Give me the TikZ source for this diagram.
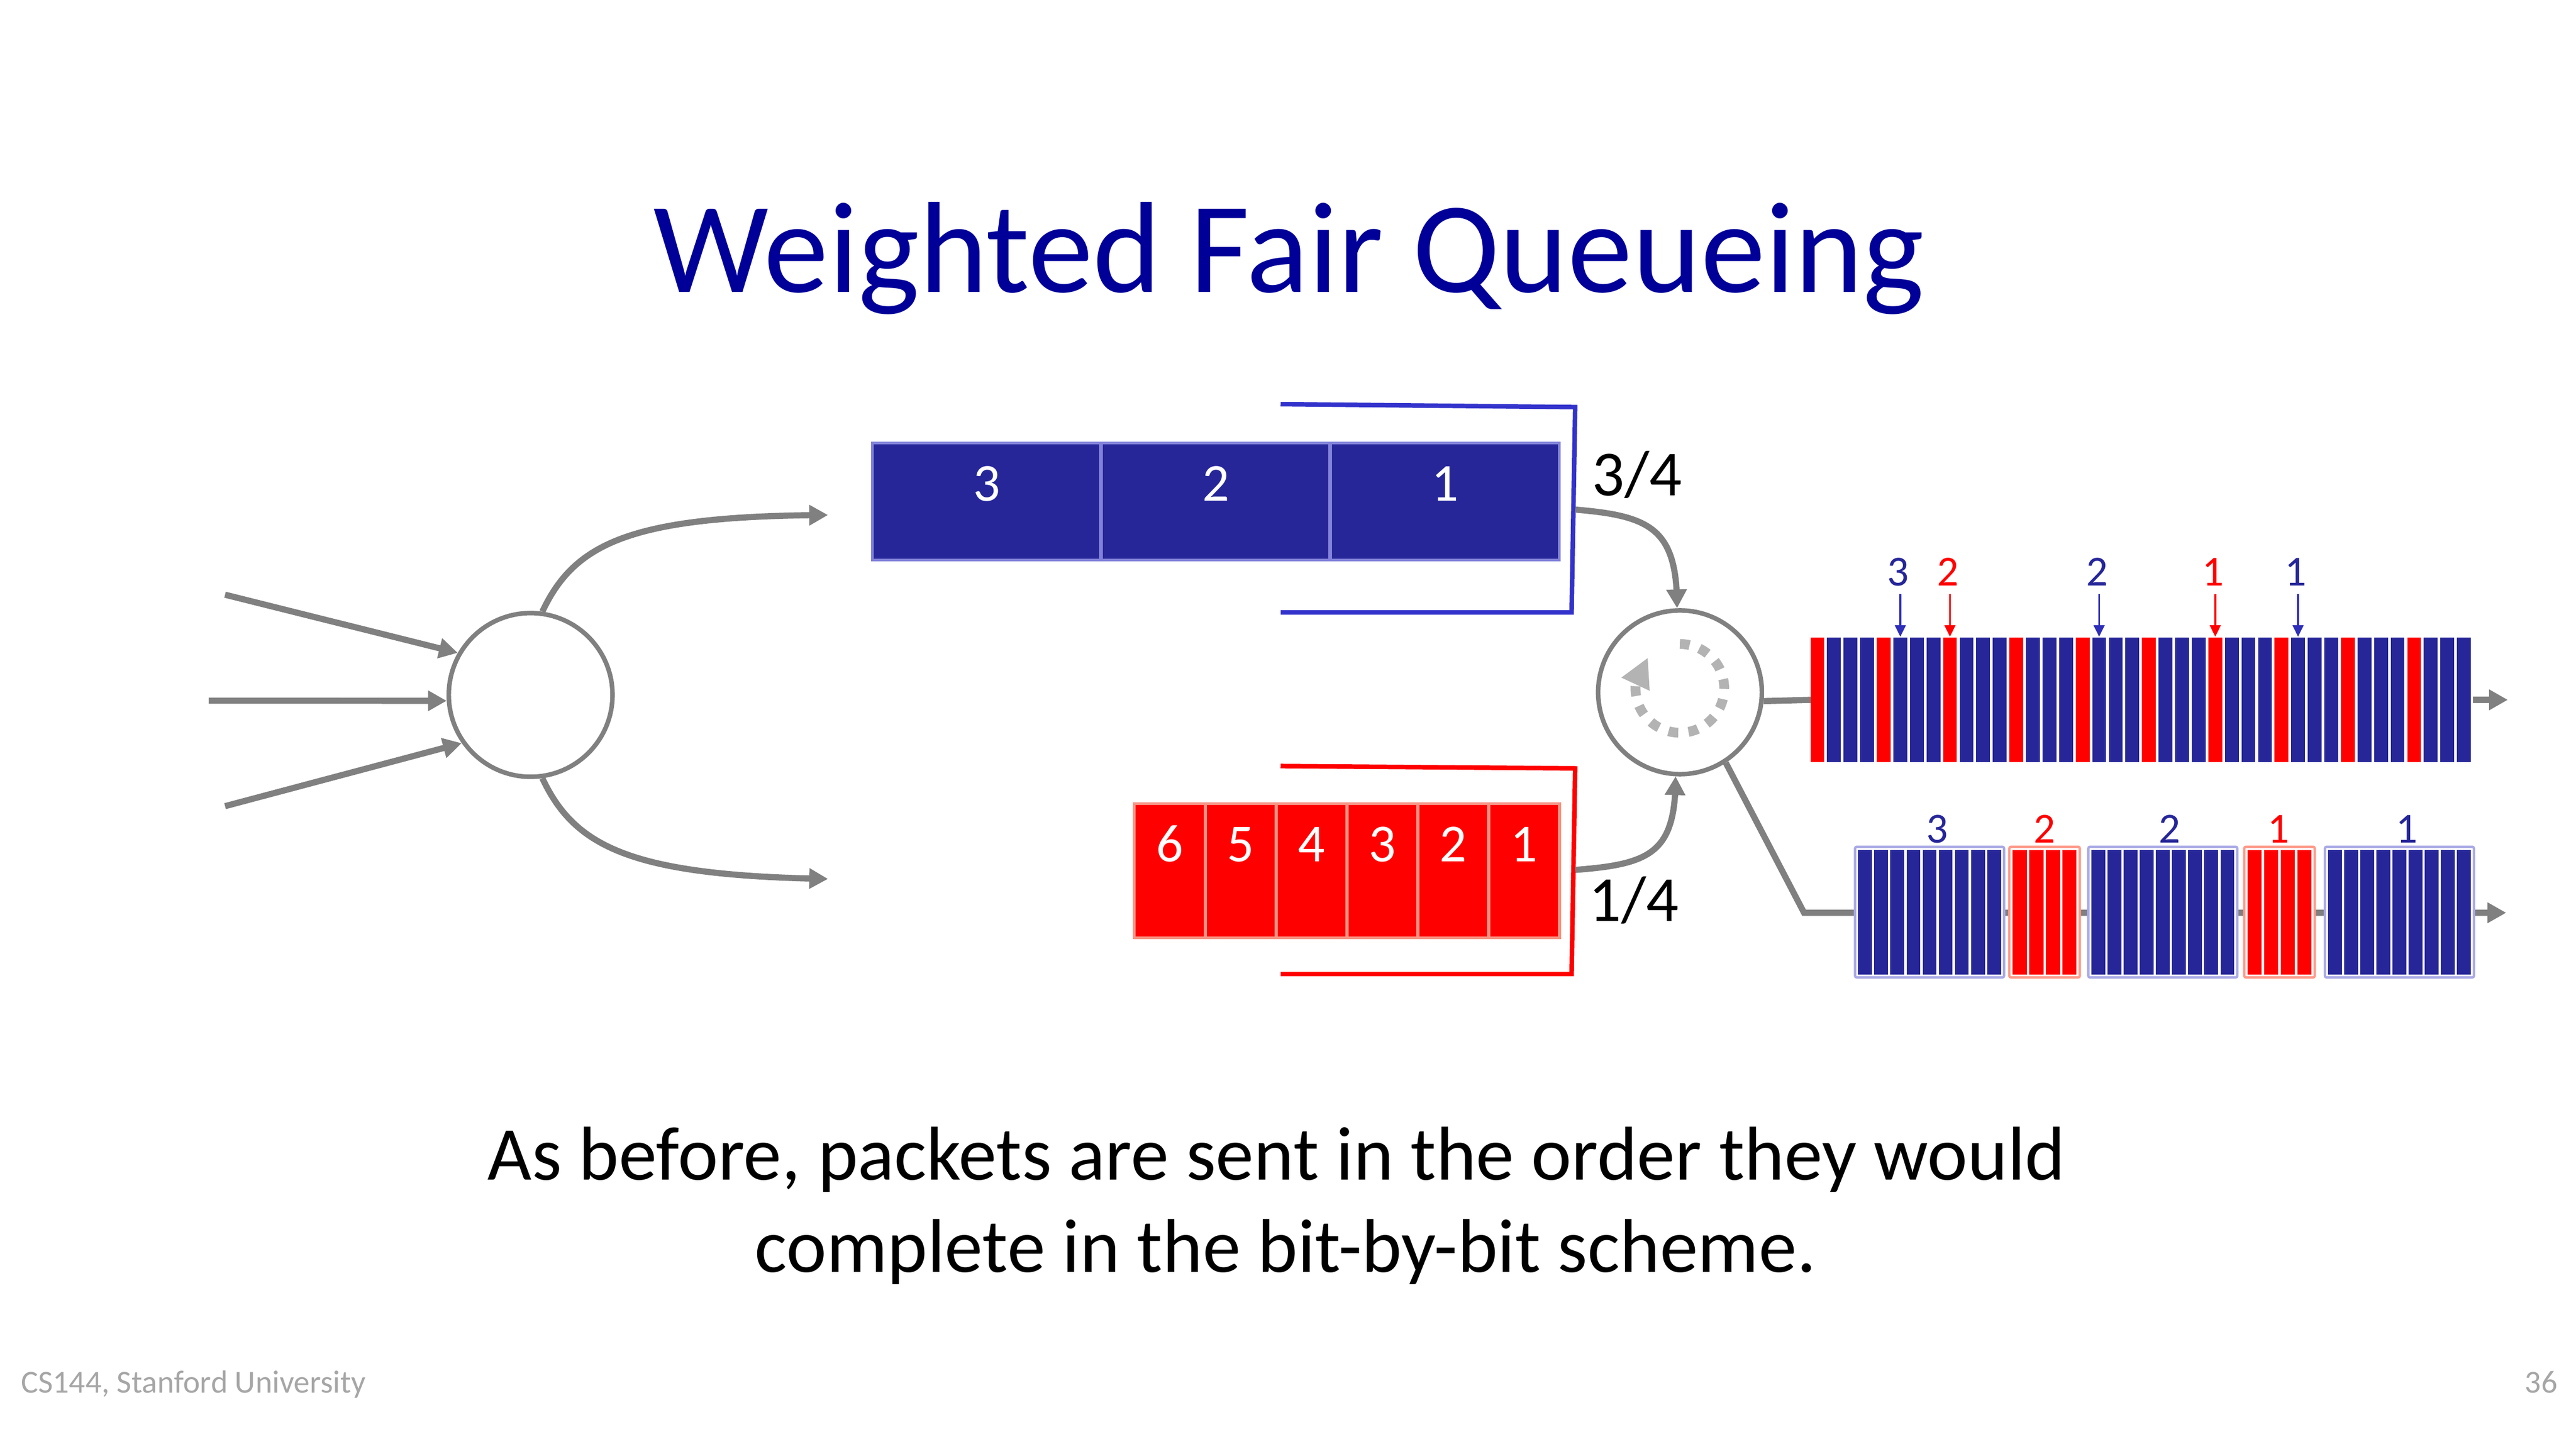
\documentclass[tikz,border=0pt]{standalone}
\usepackage{fontspec}
\setmainfont{Carlito}
\usetikzlibrary{arrows.meta,bending,calc}
\definecolor{titleblue}{HTML}{000099}
\definecolor{navy}{HTML}{262699}
\definecolor{navyedge}{HTML}{8383DA}
\definecolor{bracketblue}{HTML}{3333CC}
\definecolor{rededge}{HTML}{F79484}
\definecolor{connector}{HTML}{808080}
\definecolor{rotgray}{HTML}{B3B3B3}
\definecolor{footgray}{HTML}{A6A6A6}
\definecolor{pktnavyedge}{HTML}{AAAAE6}
\definecolor{pktrededge}{HTML}{FF9A8A}
\definecolor{markblue}{HTML}{2E2EB8}
\def\px{0.612245pt}
\newcommand\wfqpkt[6]{%
  \node[pktbox, draw=#6, minimum width=#3*\px] (#1) at (#2+#3/2, 555.2) {};
  \pgfmathsetmacro\wfqpitch{(#3-2.6)/#4}%
  \foreach \wfqk in {1,...,#4}{%
    \fill[#5] ({#2+2+(\wfqk-1)*\wfqpitch}, 517.3) rectangle ++({\wfqpitch-1.4}, 75.8);
  }%
}
\begin{document}
\begin{tikzpicture}[x=0.0215987cm,y=-0.0215987cm,
  garrow/.style={color=connector, line width=2.3pt, -{Triangle[length=7pt,width=7.3pt]}},
  gline/.style={color=connector, line width=2.3pt},
  router/.style={circle, draw=connector, line width=1.7pt, fill=white, minimum size=100*\px, inner sep=0pt},
  bcell/.style={rectangle, draw=navyedge, fill=navy, line width=1.1pt, minimum width=139.53*\px, minimum height=71.4*\px, inner sep=0pt},
  rcell/.style={rectangle, draw=rededge, fill=red, line width=1.1pt, minimum width=43.15*\px, minimum height=82*\px, inner sep=0pt},
  cellnum/.style={anchor=base, text=white, font=\fontsize{20}{24}\selectfont, inner sep=0pt},
  ratio/.style={anchor=base, font=\fontsize{24}{28}\selectfont, inner sep=0pt},
  bitnum/.style={anchor=base, font=\fontsize{16}{19}\selectfont, inner sep=0pt},
  bitmark/.style={line width=0.7pt, -{Triangle[length=4.3pt,width=4pt]}},
  bracket/.style={line width=1.7pt, line join=miter},
  pktbox/.style={rectangle, fill=white, line width=0.9pt, rounded corners=0.6pt, minimum height=79.8*\px, inner sep=0pt},
  rotarc/.style={color=rotgray, line width=3.67pt, dash pattern=on 3.67pt off 3.86pt, -{Triangle[length=11pt,width=10.8pt,flex]}},
  body/.style={anchor=base, font=\fontsize{28.5}{34}\selectfont, inner sep=0pt},
  foot/.style={font=\fontsize{12}{14}\selectfont, text=footgray, inner sep=0pt}
]
\useasboundingbox[fill=white] (0,0) rectangle (1568,882);

% title
\node[anchor=base, font=\fontsize{48.5}{58}\selectfont, text=titleblue, inner sep=0pt] (title) at (784.5,178) {Weighted Fair Queueing};

% classifier
\node[router] (lc) at (323,423) {};
\coordinate (in1) at (137,362);
\coordinate (in2) at (127,426.5);
\coordinate (in3) at (137,490.7);
\draw[garrow] (in1) -- (lc.150);
\draw[garrow] (in2) -- (lc.184);
\draw[garrow] (in3) -- (lc.215.5);
\coordinate (qin1) at (504,313.5);
\coordinate (qin2) at (504,535);
\draw[garrow] (lc.82) .. controls (350,330) and (385,314) .. (qin1);
\draw[garrow] (lc.278) .. controls (350,516) and (385,533) .. (qin2);

% blue queue
\node[bcell] (b3) at (600.47,305.3) {};
\node[bcell] (b2) at (740.0,305.3) {};
\node[bcell] (b1) at (879.53,305.3) {};
\node[cellnum] (b3n) at (600.5,305.1) {3};
\node[cellnum] (b2n) at (740.0,305.1) {2};
\node[cellnum] (b1n) at (879.5,305.1) {1};
\coordinate (bk1) at (779.5,246);
\coordinate (bk2) at (958.8,247.8);
\coordinate (bk3) at (956.6,372.8);
\coordinate (bk4) at (779.5,372.8);
\draw[bracket, draw=bracketblue] (bk1) -- (bk2) -- (bk3) -- (bk4);

% red queue
\node[rcell] (r6) at (711.98,530) {};
\node[rcell] (r5) at (755.13,530) {};
\node[rcell] (r4) at (798.28,530) {};
\node[rcell] (r3) at (841.43,530) {};
\node[rcell] (r2) at (884.58,530) {};
\node[rcell] (r1) at (927.73,530) {};
\node[cellnum] (r6n) at (712,524.5) {6};
\node[cellnum] (r5n) at (755.1,524.5) {5};
\node[cellnum] (r4n) at (798.3,524.5) {4};
\node[cellnum] (r3n) at (841.4,524.5) {3};
\node[cellnum] (r2n) at (884.6,524.5) {2};
\node[cellnum] (r1n) at (927.7,524.5) {1};
\coordinate (rk1) at (779.5,466.3);
\coordinate (rk2) at (958.8,467.7);
\coordinate (rk3) at (956.6,592.9);
\coordinate (rk4) at (779.5,592.9);
\draw[bracket, draw=red] (rk1) -- (rk2) -- (rk3) -- (rk4);

% weights
\node[ratio] (w1) at (996.4,301.8) {3/4};
\node[ratio] (w2) at (994.5,560.6) {1/4};

% scheduler
\node[router] (sc) at (1022.6,421.4) {};
\coordinate (bqout) at (958.8,310.2);
\coordinate (rqout) at (958.8,529.5);
\draw[garrow] (bqout) .. controls (1005,314) and (1021,322) .. (sc.92);
\draw[garrow] (rqout) .. controls (1005,526) and (1020,519) .. (sc.-93);
\coordinate (rc) at (1022.5,419);
\draw[rotarc] ($(rc)+(-90:27)$) arc[start angle=-90, end angle=224, radius=27];

% bit-by-bit output
\node[inner sep=0pt, minimum width=403.6*\px, minimum height=76*\px] (bar1) at (1303.8,426) {};
\coordinate (bar1out) at (1526.5,426);
\draw[gline] (sc.-6) -- (bar1.west);
\draw[garrow] (bar1.east) -- (bar1out);
\foreach \k in {0,...,39}{
  \fill[navy] ({1102+\k*10.09},388) rectangle ++(8.45,76);
}
\foreach \k in {0,4,...,36}{
  \fill[red] ({1102+\k*10.09},388) rectangle ++(8.45,76);
}
\foreach \xx/\nn/\cc/\ac [count=\i] in {1156.7/3/navy/markblue, 1186.9/2/red/red, 1277.7/2/navy/markblue, 1348.4/1/red/red, 1398.8/1/navy/markblue}{
  \node[bitnum, text=\cc] (tl\i) at (\xx-1.3,356.6) {\nn};
  \coordinate (ta\i) at (\xx,361.5);
  \coordinate (tb\i) at (\xx,387.6);
  \draw[bitmark, color=\ac] (ta\i) -- (tb\i);
}

% packet output
\coordinate (pkcorner) at (1098.1,555.6);
\coordinate (pkout) at (1525.5,555.6);
\draw[garrow] (sc.-57.5) -- (pkcorner) -- (pkout);
\wfqpkt{p3b}{1129}{91}{9}{navy}{pktnavyedge}
\wfqpkt{p2r}{1223}{43}{4}{red}{pktrededge}
\wfqpkt{p2b}{1271}{91}{9}{navy}{pktnavyedge}
\wfqpkt{p1r}{1366}{43}{4}{red}{pktrededge}
\wfqpkt{p1b}{1415}{91}{9}{navy}{pktnavyedge}
\node[bitnum, text=navy] (l3b) at (1179,512.9) {3};
\node[bitnum, text=red] (l2r) at (1244.5,512.9) {2};
\node[bitnum, text=navy] (l2b) at (1320.5,512.9) {2};
\node[bitnum, text=red] (l1r) at (1387,512.9) {1};
\node[bitnum, text=navy] (l1b) at (1465,512.9) {1};

% caption
\node[body] (body1) at (777,718.2) {As before, packets are sent in the order they would};
\node[body] (body2) at (782.5,774.3) {complete in the bit-by-bit scheme.};

% footer
\node[foot, anchor=base west] (course) at (12.5,847.8) {CS144, Stanford University};
\node[foot, anchor=base east] (pagenum) at (1557,847.8) {36};
\end{tikzpicture}
\end{document}
